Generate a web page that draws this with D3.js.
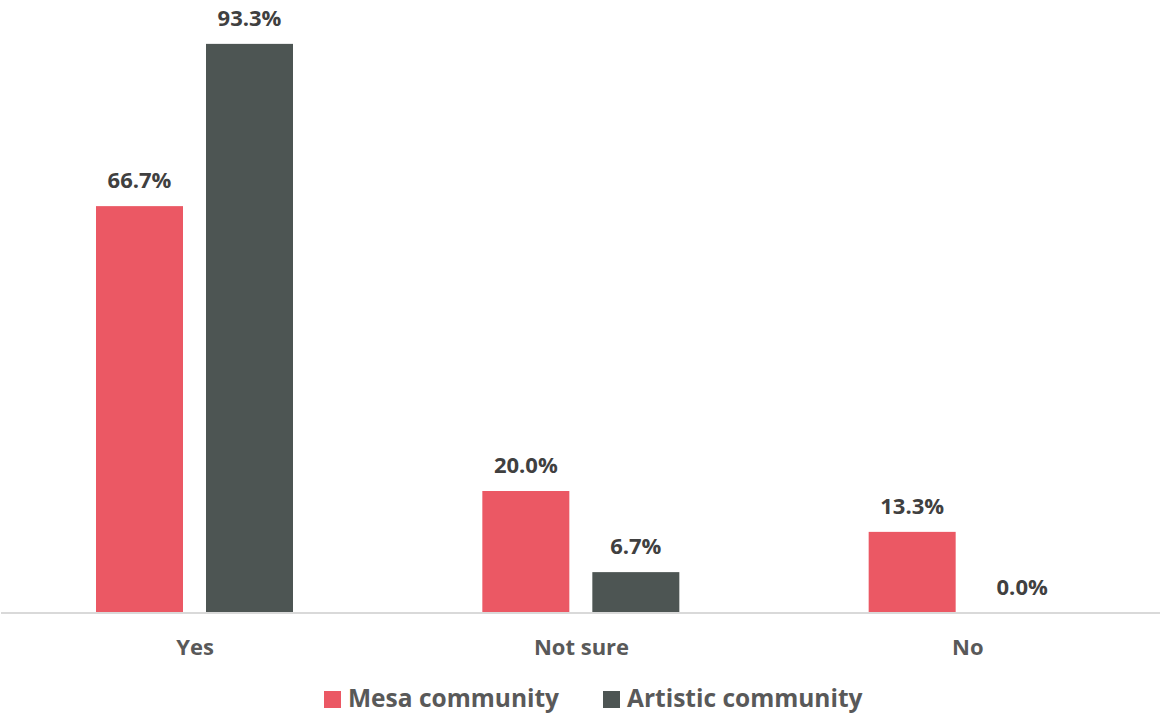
<!DOCTYPE html>
<html>
<head>
<meta charset="utf-8">
<script src="https://cdn.jsdelivr.net/npm/d3@7"></script>
<style>
  body { margin: 0; background: #fff; }
  svg { display: block; font-family: "Open Sans", sans-serif; }
</style>
</head>
<body>
<div id="chart"></div>
<script>
const categories = ['Yes', 'Not sure', 'No'];
const seriesNames = ['Mesa community', 'Artistic community'];
const mesaValues = [66.7, 20.0, 13.3];
const artisticValues = [93.3, 6.7, 0.0];
const colors = ['#eb5864', '#4d5553'];

const width = 1161;
const height = 713;
const baseline = 613;

const svg = d3.select('#chart').append('svg')
    .attr('width', width)
    .attr('height', height);

const x0 = d3.scaleBand()
    .domain(categories)
    .range([2, 1161]);

// bars inside one category band (pixels from band start)
const x1 = d3.scaleBand()
    .domain(seriesNames)
    .range([94, 94 + 197])
    .paddingInner(23 / 110);

const y = d3.scaleLinear()
    .domain([0, 100])
    .range([baseline, 3]);

const rows = categories.map((c, i) => ({
    cat: c,
    vals: [mesaValues[i], artisticValues[i]]
}));

const g = svg.selectAll('g.cat')
    .data(rows)
    .enter().append('g')
    .attr('class', 'cat')
    .attr('transform', d => `translate(${x0(d.cat)},0)`);

const cells = d => d.vals.map((v, i) => ({ name: seriesNames[i], v, i }));

g.selectAll('rect')
    .data(cells)
    .enter().append('rect')
    .attr('x', d => x1(d.name))
    .attr('width', x1.bandwidth())
    .attr('y', d => y(d.v))
    .attr('height', d => baseline - y(d.v))
    .attr('fill', d => colors[d.i]);

g.selectAll('text.val')
    .data(cells)
    .enter().append('text')
    .attr('class', 'val')
    .attr('x', d => x1(d.name) + x1.bandwidth() / 2)
    .attr('y', d => y(d.v) - 18)
    .attr('text-anchor', 'middle')
    .attr('font-size', 22)
    .attr('font-weight', 700)
    .attr('fill', '#404040')
    .text(d => d.v.toFixed(1) + '%');

// x axis
const ax = svg.append('g')
    .attr('transform', `translate(0,${baseline})`)
    .call(d3.axisBottom(x0).tickSize(0).tickPadding(26));
ax.select('.domain').attr('stroke', '#d9d9d9').attr('stroke-width', 2)
    .attr('d', 'M1,0H1160');
ax.selectAll('text')
    .attr('font-family', '"Open Sans", sans-serif')
    .attr('font-size', 22)
    .attr('font-weight', 700)
    .attr('fill', '#595959');

// legend
const legendX = [324, 603];
const lg = svg.selectAll('g.legend')
    .data(seriesNames)
    .enter().append('g')
    .attr('class', 'legend')
    .attr('transform', (d, i) => `translate(${legendX[i]},691)`);
lg.append('rect')
    .attr('width', 17)
    .attr('height', 17)
    .attr('fill', (d, i) => colors[i]);
lg.append('text')
    .attr('x', 24)
    .attr('y', 16)
    .attr('font-size', 24.5)
    .attr('font-weight', 700)
    .attr('fill', '#595959')
    .text(d => d);
</script>
</body>
</html>
